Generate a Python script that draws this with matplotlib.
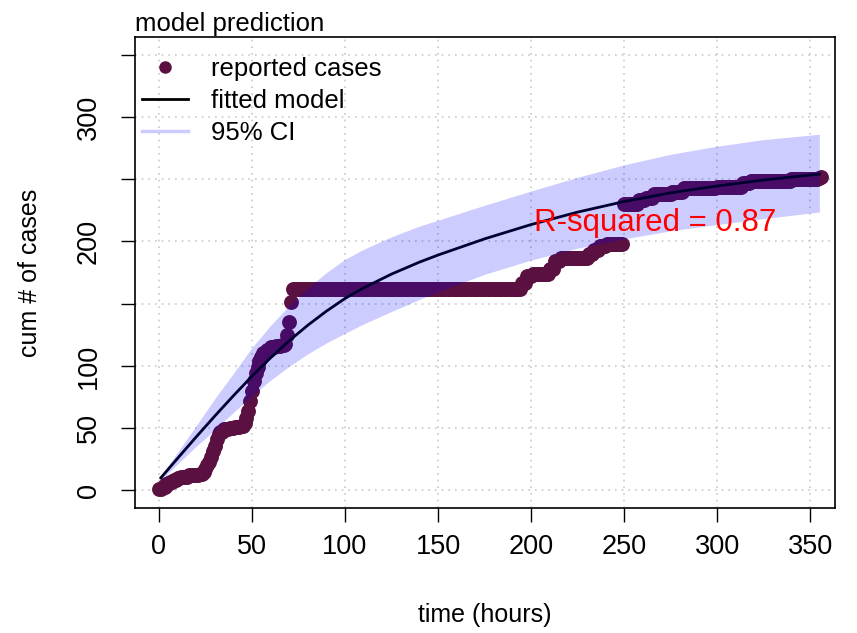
import numpy as np
import matplotlib
matplotlib.use("Agg")
import matplotlib.pyplot as plt
from matplotlib.lines import Line2D

plt.rcParams['font.family'] = ['Liberation Sans', 'DejaVu Sans']

# reported cumulative cases: hour at which the count changes, and the new count
report_hour = [0, 2, 4, 6, 8, 10, 12, 16, 22, 24, 25, 26, 27, 28, 29, 30, 31, 32, 33,
               35, 38, 41, 44, 46, 47, 48, 49, 50, 51, 52, 53, 54, 55, 56, 58, 60, 63,
               66, 68, 69, 70, 71, 72, 195, 198, 201, 210, 213, 216, 231, 234, 237, 241,
               250, 258, 262, 266, 276, 282, 300, 314, 318, 340, 355, 356]
report_cases = [1, 3, 5, 7, 8, 10, 11, 12, 13, 15, 17, 20, 23, 27, 32, 36, 41, 45, 47,
                49, 50, 51, 52, 54, 58, 64, 72, 80, 88, 94, 99, 104, 107, 110, 113, 115, 116,
                117, 118, 125, 135, 151, 162, 167, 172, 174, 178, 184, 187, 190, 193, 196, 198,
                230, 233, 235, 238, 240, 243, 244, 247, 249, 250, 251, 252]
last_hour = 356

# fitted model and 95% CI
fit_hour = [1, 5, 10, 15, 20, 25, 30, 40, 50, 60, 70, 80, 90, 100, 110, 125, 140, 150,
            175, 200, 225, 250, 275, 300, 325, 355]
fit_cases = [10, 17, 25.7, 34.3, 42.9, 51.3, 59.7, 76, 91.7, 106.5, 120.2, 132.7, 144,
             154.2, 162.7, 173.8, 183.4, 189.1, 202.1, 213.6, 223.6, 232.1, 239.1, 244.6,
             249.4, 254.2]
ci_upper = [12, 20, 30.7, 41.3, 51.9, 62.8, 73.7, 94, 114.7, 132.5, 148.7, 162.7, 175,
            185.7, 193.7, 203.8, 212.4, 217.1, 229.1, 240.6, 251.6, 261.6, 270.1, 276.6,
            281.9, 286.2]
ci_lower = [8, 14, 21.2, 28.3, 35.4, 41.8, 48.7, 62.5, 76.2, 88.5, 99.7, 109.7, 118.5,
            126.2, 133.7, 143.8, 153.4, 159.6, 173.6, 185.1, 194.6, 202.1, 208.6, 213.6,
            218.4, 223.7]

x_ticks = [0, 50, 100, 150, 200, 250, 300, 350]
y_ticks = [0, 50, 100, 150, 200, 250, 300, 350]
y_tick_labels = ['0', '50', '100', '', '200', '', '300', '']

point_col = '#5A1040'
ci_col = (0, 0, 1, 0.2)

# hourly observations (count holds until the next report)
hours = np.arange(0, last_hour + 1)
idx = np.searchsorted(report_hour, hours, side='right') - 1
cases = np.array(report_cases)[idx]

fig = plt.figure(figsize=(8.57, 6.33), dpi=100)
ax = fig.add_axes([0.1575, 0.1975, 0.8168, 0.7441])

ax.scatter(hours, cases, s=115, color=point_col, linewidths=0, zorder=2)
ax.plot(fit_hour, fit_cases, color='black', lw=2, zorder=3)
ax.fill_between(fit_hour, ci_lower, ci_upper, color=ci_col, linewidth=0, zorder=4)

ax.text(267, 215, 'R-squared = 0.87', color='red', fontsize=22.5,
        ha='center', va='center', zorder=5)

ax.set_xlim(-12.9, 363.4)
ax.set_ylim(-14.2, 364.4)
ax.set_xticks(x_ticks)
ax.set_yticks(y_ticks)
ax.set_yticklabels(y_tick_labels, rotation=90, va='center')
ax.tick_params(labelsize=19.5, length=10, width=1, direction='out')
ax.tick_params(axis='y', pad=14)
ax.tick_params(axis='x', pad=9)
ax.grid(True, color='#c8c8c8', linestyle=(0, (1, 3)), lw=1.2, zorder=0)
ax.set_axisbelow(True)
for sp in ax.spines.values():
    sp.set_linewidth(1.2)

ax.set_xlabel('time (hours)', fontsize=18, labelpad=31)
ax.set_ylabel('cum # of cases', fontsize=18, labelpad=24)
ax.set_title('model prediction', fontsize=18.5, loc='left', pad=4)

handles = [
    Line2D([], [], marker='o', linestyle='none', color=point_col, markersize=8),
    Line2D([], [], color='black', lw=2),
    Line2D([], [], color='#ccccff', lw=2.5),
]
ax.legend(handles, ['reported cases', 'fitted model', '95% CI'], loc='upper left',
          frameon=False, fontsize=18.5, handlelength=1.8, handletextpad=0.9,
          labelspacing=0.3, borderaxespad=0.2, bbox_to_anchor=(-0.012, 0.99))

fig.savefig('out.png', dpi=100)
